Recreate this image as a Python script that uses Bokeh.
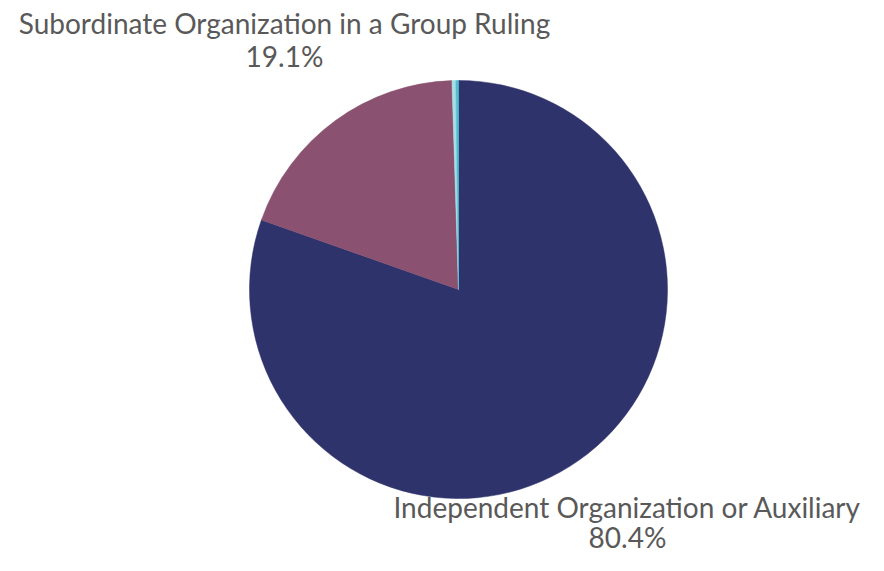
import numpy as np
from bokeh.plotting import figure
from bokeh.models import Range1d, ColumnDataSource
from bokeh.core.properties import value
from bokeh.embed import file_html
from bokeh.resources import INLINE

categories = ["Independent Organization or Auxiliary", "Subordinate Organization in a Group Ruling", "Other A", "Other B"]
shares = [80.4, 19.1, 0.3, 0.2]
colors = ["#2F336B", "#8A5270", "#A8DDE6", "#4FBFD0"]
labeled = ["Independent Organization or Auxiliary", "Subordinate Organization in a Group Ruling"]
label_pct = ["80.4%", "19.1%"]

W, H = 868, 555
p = figure(width=W, height=H, output_backend="svg", toolbar_location=None,
           x_range=Range1d(0, W), y_range=Range1d(0, H), min_border=0)
p.axis.visible = False
p.grid.visible = False
p.outline_line_color = None
p.background_fill_color = "white"
p.border_fill_color = "white"

# page coords -> data: x = px, y = H - py
cx, cy, r = 458, H - 289, 209
fr = np.array(shares) / sum(shares)
c1 = np.cumsum(fr)
c0 = c1 - fr
start = np.pi / 2 - 2 * np.pi * c0
end = np.pi / 2 - 2 * np.pi * c1
src = ColumnDataSource(dict(start=start, end=end, color=colors))
p.wedge(x=cx, y=cy, radius=r, start_angle="start", end_angle="end",
        direction="clock", fill_color="color", line_color="color", line_width=0.5, source=src)

lx = [627, 284]
ly_name = [H - 489, H - 5]
ly_pct = [H - 519, H - 38]
font = value("Lato")
p.text(x=lx, y=ly_name, text=labeled, text_align="center", text_baseline="top",
       text_font=font, text_font_size="28px", text_color="#595959")
p.text(x=lx, y=ly_pct, text=label_pct, text_align="center", text_baseline="top",
       text_font=font, text_font_size="28px", text_color="#595959")

open("out.html", "w").write(file_html(p, INLINE))
